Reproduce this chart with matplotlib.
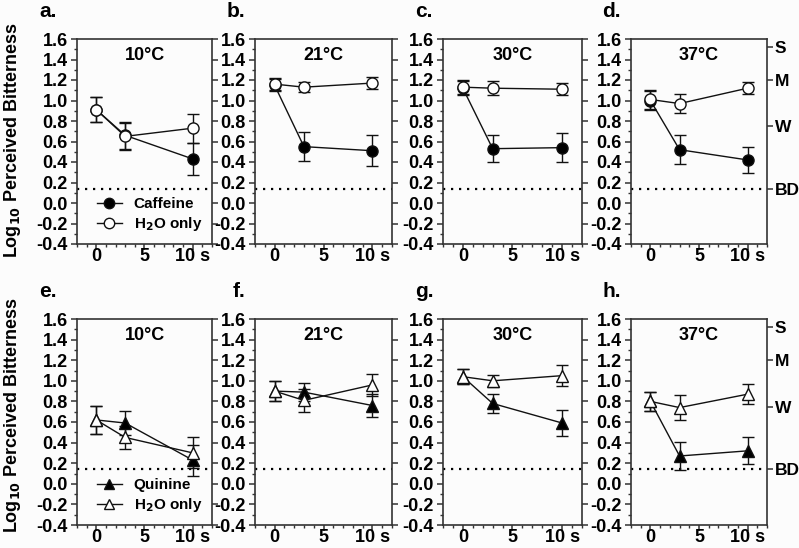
import matplotlib
matplotlib.use("Agg")
import matplotlib.pyplot as plt
from matplotlib.lines import Line2D
from matplotlib.ticker import MultipleLocator, FixedLocator

plt.rcParams['font.family'] = ['Liberation Sans', 'DejaVu Sans']
plt.rcParams['font.weight'] = 'bold'

# time points (s)
times = [0, 3, 10]
temps = ['10°C', '21°C', '30°C', '37°C']
letters_top = ['a.', 'b.', 'c.', 'd.']
letters_bot = ['e.', 'f.', 'g.', 'h.']

# caffeine (top row)
caf_mean = [[0.91, 0.66, 0.43], [1.15, 0.55, 0.51], [1.12, 0.53, 0.54], [1.00, 0.52, 0.42]]
caf_err = [[0.12, 0.13, 0.16], [0.06, 0.14, 0.15], [0.07, 0.13, 0.14], [0.09, 0.14, 0.13]]
h2o_top_mean = [[0.91, 0.65, 0.73], [1.16, 1.13, 1.17], [1.13, 1.12, 1.11], [1.01, 0.97, 1.12]]
h2o_top_err = [[0.12, 0.13, 0.14], [0.06, 0.05, 0.06], [0.07, 0.07, 0.06], [0.09, 0.09, 0.06]]

# quinine (bottom row)
qui_mean = [[0.62, 0.59, 0.23], [0.90, 0.89, 0.76], [1.04, 0.78, 0.59], [0.80, 0.27, 0.32]]
qui_err = [[0.14, 0.12, 0.15], [0.10, 0.09, 0.11], [0.07, 0.09, 0.13], [0.09, 0.14, 0.13]]
h2o_bot_mean = [[0.62, 0.45, 0.30], [0.90, 0.81, 0.96], [1.04, 1.00, 1.05], [0.80, 0.74, 0.87]]
h2o_bot_err = [[0.14, 0.11, 0.15], [0.10, 0.11, 0.11], [0.07, 0.06, 0.10], [0.09, 0.12, 0.10]]

# detection threshold and intensity labels
bd_level = 0.14
scale_pos = [1.52, 1.20, 0.75, 0.14]
scale_lab = ['S', 'M', 'W', 'BD']

W, H = 799, 548
fig = plt.figure(figsize=(W / 100, H / 100), dpi=100)
fig.patch.set_facecolor('#fcfcfc')

lefts = [77, 255, 443, 631]
rights = [212, 392, 582, 767]
rows = [(39, 244), (319, 525)]
letter_x_top = [39, 227, 415, 602]
letter_x_bot = [39, 233, 415, 602]
INK = '#111111'


def make_axes(i, row):
    top, bot = rows[row]
    ax = fig.add_axes([lefts[i] / W, (H - bot) / H, (rights[i] - lefts[i]) / W, (bot - top) / H])
    ax.set_facecolor('#fcfcfc')
    ax.set_xlim(-2, 12)
    ax.set_ylim(-0.4, 1.6)
    ax.yaxis.set_major_locator(MultipleLocator(0.2))
    ax.yaxis.set_minor_locator(MultipleLocator(0.1))
    ax.xaxis.set_major_locator(FixedLocator([0, 5, 10]))
    ax.xaxis.set_minor_locator(MultipleLocator(1))
    ax.set_xticklabels(['0', '5', '10 s'])
    ax.set_yticklabels(['%.1f' % v for v in ax.get_yticks()])
    for s in ax.spines.values():
        s.set_color('#333333')
        s.set_linewidth(1.2)
    ax.tick_params(axis='both', which='major', labelsize=13, direction='out',
                   length=4.5, width=1.1, color='#333333', pad=2)
    ax.tick_params(axis='x', which='major', pad=-1.5)
    ax.tick_params(axis='both', which='minor', direction='out', length=2.5, width=1, color='#333333')
    ax.tick_params(axis='y', right=(i < 3), which='major')
    ax.tick_params(axis='y', right=False, which='minor')
    ax.axhline(bd_level, color='black', linestyle=(0, (1, 2.6)), linewidth=1.6)
    ax.text(0.5, 0.92, temps[i], transform=ax.transAxes, ha='center', va='center',
            fontsize=13, fontweight='bold')
    if i == 3:
        tw = ax.twinx()
        tw.set_ylim(-0.4, 1.6)
        tw.set_yticks(scale_pos)
        tw.set_yticklabels(scale_lab)
        tw.tick_params(axis='y', labelsize=12.5, length=4.5, width=1.1, color='#333333', pad=1)
        for s in tw.spines.values():
            s.set_visible(False)
    return ax


def draw(ax, mean, err, marker, fill):
    ax.errorbar(times, mean, yerr=err, color=INK, ecolor=INK, elinewidth=1,
                capsize=4, capthick=1, linewidth=1, marker=marker, markersize=8 if marker == 'o' else 8.5,
                markerfacecolor=fill, markeredgecolor=INK, markeredgewidth=1)


def add_legend(ax, marker, name):
    hs = [Line2D([], [], color=INK, lw=1, marker=marker, markersize=7.5, markerfacecolor='black',
                 markeredgecolor=INK),
          Line2D([], [], color=INK, lw=1, marker=marker, markersize=7.5, markerfacecolor='white',
                 markeredgecolor=INK)]
    ax.legend(hs, [name, 'H$_2$O only'], loc='lower left', bbox_to_anchor=(0.07, 0.0),
              frameon=False, fontsize=11, handlelength=1.6, handletextpad=0.8, labelspacing=0.25,
              borderaxespad=0.3)


for i in range(4):
    ax = make_axes(i, 0)
    draw(ax, caf_mean[i], caf_err[i], 'o', 'black')
    draw(ax, h2o_top_mean[i], h2o_top_err[i], 'o', 'white')
    if i == 0:
        add_legend(ax, 'o', 'Caffeine')
    fig.text(letter_x_top[i] / W, 1 - 17 / H, letters_top[i], fontsize=15, fontweight='bold',
             ha='left', va='baseline')

    ax = make_axes(i, 1)
    draw(ax, qui_mean[i], qui_err[i], '^', 'black')
    draw(ax, h2o_bot_mean[i], h2o_bot_err[i], '^', 'white')
    if i == 0:
        add_legend(ax, '^', 'Quinine')
    fig.text(letter_x_bot[i] / W, 1 - 297 / H, letters_bot[i], fontsize=15, fontweight='bold',
             ha='left', va='baseline')

ylab = 'Log$_{\\mathbf{10}}$ Perceived Bitterness'
fig.text(13 / W, 1 - 140 / H, ylab, rotation=90, ha='center', va='center', fontsize=13, fontweight='bold')
fig.text(13 / W, 1 - 415 / H, ylab, rotation=90, ha='center', va='center', fontsize=13, fontweight='bold')

fig.savefig('out.png', dpi=100, facecolor=fig.get_facecolor())
